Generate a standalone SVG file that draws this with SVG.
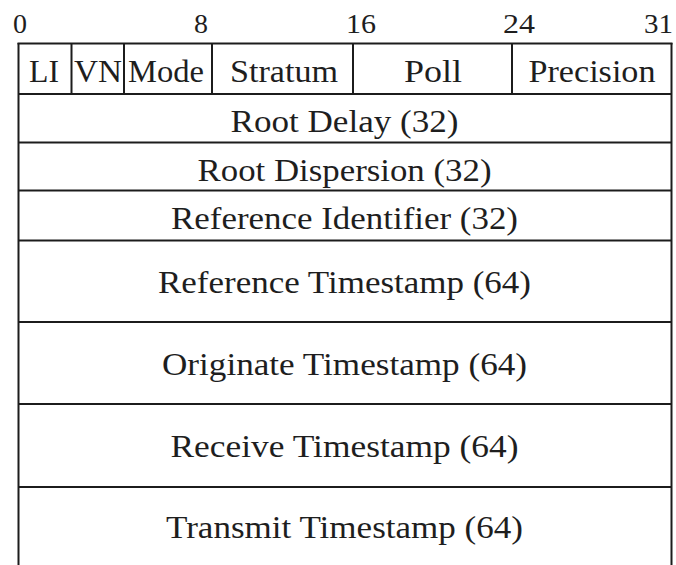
<svg xmlns="http://www.w3.org/2000/svg" width="676" height="565" viewBox="0 0 676 565">
<style>
  .ln { stroke: #1c1c1c; stroke-width: 2; fill: none; }
  .t { font-family: "Liberation Serif", "Times New Roman", Tinos, serif; font-size: 31px; fill: #1e1e1e; text-anchor: middle; }
  .n { font-family: "Liberation Serif", "Times New Roman", Tinos, serif; font-size: 27px; fill: #1e1e1e; text-anchor: start; }
</style>
<rect width="676" height="565" fill="#ffffff"/>
<g id="bit-scale">
  <text class="n" x="13" y="33" textLength="14" lengthAdjust="spacingAndGlyphs">0</text>
  <text class="n" x="194" y="33" textLength="14" lengthAdjust="spacingAndGlyphs">8</text>
  <text class="n" x="346" y="33" textLength="30" lengthAdjust="spacingAndGlyphs">16</text>
  <text class="n" x="503" y="33" textLength="32" lengthAdjust="spacingAndGlyphs">24</text>
  <text class="n" x="644" y="33" textLength="29" lengthAdjust="spacingAndGlyphs">31</text>
</g>
<g id="connectors">
  <path class="ln" d="M18.5 43 V565 M671.5 43 V565"/>
  <path class="ln" d="M17.5 43.5 H672.5 M18 94 H672 M18 142.5 H672 M18 190.5 H672 M18 240.5 H672 M18 322 H672 M18 404 H672 M18 487 H672"/>
  <path class="ln" d="M71.5 43 V94 M124 43 V94 M212 43 V94 M353 43 V94 M512 43 V94"/>
</g>
<g id="li"><text class="t" x="44" y="82" textLength="30" lengthAdjust="spacingAndGlyphs">LI</text></g>
<g id="vn"><text class="t" x="98" y="82" textLength="48" lengthAdjust="spacingAndGlyphs">VN</text></g>
<g id="mode"><text class="t" x="166" y="82" textLength="76" lengthAdjust="spacingAndGlyphs">Mode</text></g>
<g id="stratum"><text class="t" x="284" y="82" textLength="108" lengthAdjust="spacingAndGlyphs">Stratum</text></g>
<g id="poll"><text class="t" x="433" y="82" textLength="58" lengthAdjust="spacingAndGlyphs">Poll</text></g>
<g id="precision"><text class="t" x="592" y="82" textLength="127" lengthAdjust="spacingAndGlyphs">Precision</text></g>
<g id="root-delay"><text class="t" x="344.5" y="132" textLength="228" lengthAdjust="spacingAndGlyphs">Root Delay (32)</text></g>
<g id="root-dispersion"><text class="t" x="344.5" y="181" textLength="294" lengthAdjust="spacingAndGlyphs">Root Dispersion (32)</text></g>
<g id="reference-identifier"><text class="t" x="344.5" y="229" textLength="347" lengthAdjust="spacingAndGlyphs">Reference Identifier (32)</text></g>
<g id="reference-timestamp"><text class="t" x="344.5" y="293" textLength="373" lengthAdjust="spacingAndGlyphs">Reference Timestamp (64)</text></g>
<g id="originate-timestamp"><text class="t" x="344.5" y="375" textLength="365" lengthAdjust="spacingAndGlyphs">Originate Timestamp (64)</text></g>
<g id="receive-timestamp"><text class="t" x="344.5" y="457" textLength="348" lengthAdjust="spacingAndGlyphs">Receive Timestamp (64)</text></g>
<g id="transmit-timestamp"><text class="t" x="344.5" y="538" textLength="357" lengthAdjust="spacingAndGlyphs">Transmit Timestamp (64)</text></g>
</svg>
